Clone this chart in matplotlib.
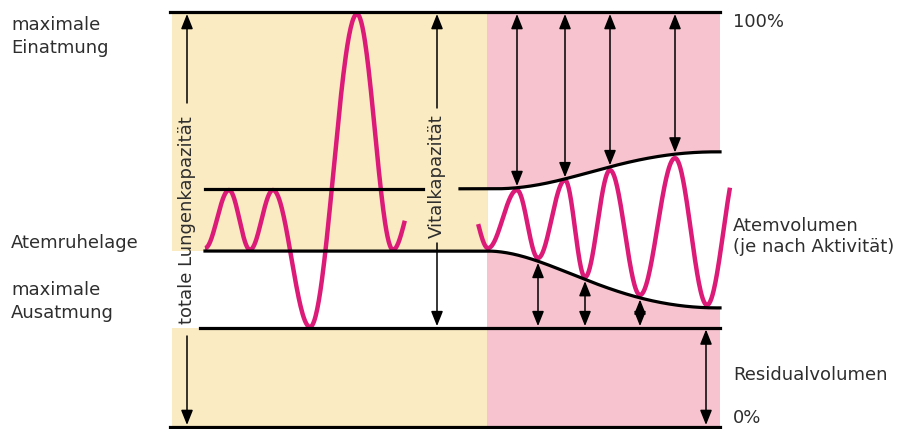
import numpy as np
import matplotlib
matplotlib.use("Agg")
import matplotlib.pyplot as plt

# --- Werte aus dem Bild (x = Zeit in Bildpunkten, y = Lungenvolumen in %) ---
niveau_max_einatmung = 100.0
niveau_end_einatmung = 57.4
niveau_ruhelage = 42.4
niveau_max_ausatmung = 23.9
niveau_null = 0.0

# Atemkurve in Ruhe (Wendepunkte), links
ruhe_x = [205, 229, 250, 273, 310, 357, 393, 417]
ruhe_y = [43.1, 57.1, 42.7, 57.1, 24.1, 99.5, 42.7, 57.1]
ruhe_ende = 405

# Atemkurve je nach Aktivitaet (Wendepunkte), rechts
aktiv_x = [468, 488, 517, 538, 565, 585, 610, 640, 675, 707, 740]
aktiv_y = [55.0, 43.1, 57.1, 40.7, 59.5, 36.1, 61.9, 31.8, 64.8, 29.4, 65.3]
aktiv_start, aktiv_ende = 478, 730

# Huellkurven (Bezier-Stuetzpunkte)
oben_bez_x = [495, 570, 620, 720]
oben_bez_y = [57.4, 57.4, 66.5, 66.3]
unten_bez_x = [487, 550, 610, 720]
unten_bez_y = [42.4, 42.4, 28.5, 28.7]

# Pfeile
pfeile_oben_x = [517, 565, 610, 675]
pfeile_unten_x = [538, 585, 640]
residual_x = 706

BEIGE = "#FAEBC2"
ROSA = "#F6C3CE"
MAGENTA = "#DC1A78"
TEXT = "#2E2E2E"


def px(y):
    """Bildzeile -> Volumen in %"""
    return (427 - y) / 4.15


def welle(xs, ys, x0, x1):
    """Halbe Kosinusboegen zwischen den Wendepunkten"""
    wx, wy = [], []
    for i in range(len(xs) - 1):
        s = np.linspace(0, 1, 60)
        wx.append(xs[i] + (xs[i + 1] - xs[i]) * s)
        wy.append(ys[i] + (ys[i + 1] - ys[i]) * (1 - np.cos(np.pi * s)) / 2)
    wx = np.concatenate(wx)
    wy = np.concatenate(wy)
    m = (wx >= x0) & (wx <= x1)
    return wx[m], wy[m]


def bezier(bx, by, n=200):
    t = np.linspace(0, 1, n)
    k = [(1 - t) ** 3, 3 * (1 - t) ** 2 * t, 3 * (1 - t) * t ** 2, t ** 3]
    return sum(k[i] * bx[i] for i in range(4)), sum(k[i] * by[i] for i in range(4))


fig = plt.figure(figsize=(9.01, 4.29), dpi=100)
ax = fig.add_axes([0, 0, 1, 1])
ax.set_xlim(0, 901)
ax.set_ylim(px(429), px(0))
ax.axis("off")

# Huellkurven
ox, oy = bezier(oben_bez_x, oben_bez_y)
ox = np.concatenate([[460], ox])
oy = np.concatenate([[niveau_end_einatmung], oy])
ux, uy = bezier(unten_bez_x, unten_bez_y)

# Flaechen
ax.fill_between([172, 487], niveau_ruhelage, niveau_max_einatmung, color=BEIGE, lw=0, zorder=0)
ax.fill_between([172, 487], niveau_null, niveau_max_ausatmung, color=BEIGE, lw=0, zorder=0)
ax.fill_between([487, 720], niveau_null, niveau_max_einatmung, color=ROSA, lw=0, zorder=0)
gx = np.linspace(487, 720, 300)
ax.fill_between(gx, np.interp(gx, ux, uy), np.interp(gx, ox, oy), color="white", lw=0, zorder=1)

# Kurven
wx, wy = welle(ruhe_x, ruhe_y, ruhe_x[0], ruhe_ende)
ax.plot(wx, wy, color=MAGENTA, lw=3.2, solid_capstyle="butt", zorder=3)
wx, wy = welle(aktiv_x, aktiv_y, aktiv_start, aktiv_ende)
ax.plot(wx, wy, color=MAGENTA, lw=3.2, solid_capstyle="butt", zorder=3)

# Waagrechte Linien
lw_linie = 2.3
ax.plot([170, 720], [niveau_max_einatmung] * 2, color="black", lw=lw_linie, zorder=4)
ax.plot([170, 720], [niveau_null] * 2, color="black", lw=lw_linie, zorder=4)
ax.plot([205, 423], [niveau_end_einatmung] * 2, color="black", lw=lw_linie, zorder=4)
ax.plot(ox, oy, color="black", lw=lw_linie, zorder=4)
ax.plot(np.concatenate([[205], ux]), np.concatenate([[niveau_ruhelage], uy]),
        color="black", lw=lw_linie, zorder=4)
ax.plot([200, 720], [niveau_max_ausatmung] * 2, color="black", lw=lw_linie, zorder=4)


def pfeil(x, y_von, y_bis, stil="<|-|>"):
    ax.annotate("", xy=(x, y_bis), xytext=(x, y_von),
                arrowprops=dict(arrowstyle=stil + ",head_length=0.75,head_width=0.3",
                                color="black", lw=1.1, mutation_scale=12,
                                shrinkA=0, shrinkB=0), zorder=5)


oben_spitze = px(14)
for x in pfeile_oben_x:
    pfeil(x, np.interp(x, ox, oy) + 0.4, oben_spitze)
for x in pfeile_unten_x:
    pfeil(x, np.interp(x, ux, uy) - 0.4, niveau_max_ausatmung + 0.4)
pfeil(residual_x, niveau_max_ausatmung - 0.4, px(425))

# totale Lungenkapazitaet
pfeil(187, px(103), oben_spitze, "-|>")
pfeil(187, px(336), px(425), "-|>")
ax.text(187, px(220), "totale Lungenkapazität", rotation=90, ha="center", va="center",
        fontsize=13, color=TEXT)
# Vitalkapazitaet
pfeil(437, px(108), oben_spitze, "-|>")
pfeil(437, px(243), niveau_max_ausatmung + 0.4, "-|>")
ax.text(437, px(176), "Vitalkapazität", rotation=90, ha="center", va="center",
        fontsize=13, color=TEXT)

# Beschriftungen links
for txt, y in [("maximale", 30), ("Einatmung", 53), ("Atemruhelage", 248),
               ("maximale", 295), ("Ausatmung", 318)]:
    ax.text(11, px(y), txt, ha="left", va="baseline", fontsize=13, color=TEXT)

# Beschriftungen rechts
for txt, y in [("100%", 27), ("Atemvolumen", 231), ("(je nach Aktivität)", 252),
               ("Residualvolumen", 380), ("0%", 423)]:
    ax.text(733, px(y), txt, ha="left", va="baseline", fontsize=13, color=TEXT)

fig.savefig("out.png", dpi=100)
